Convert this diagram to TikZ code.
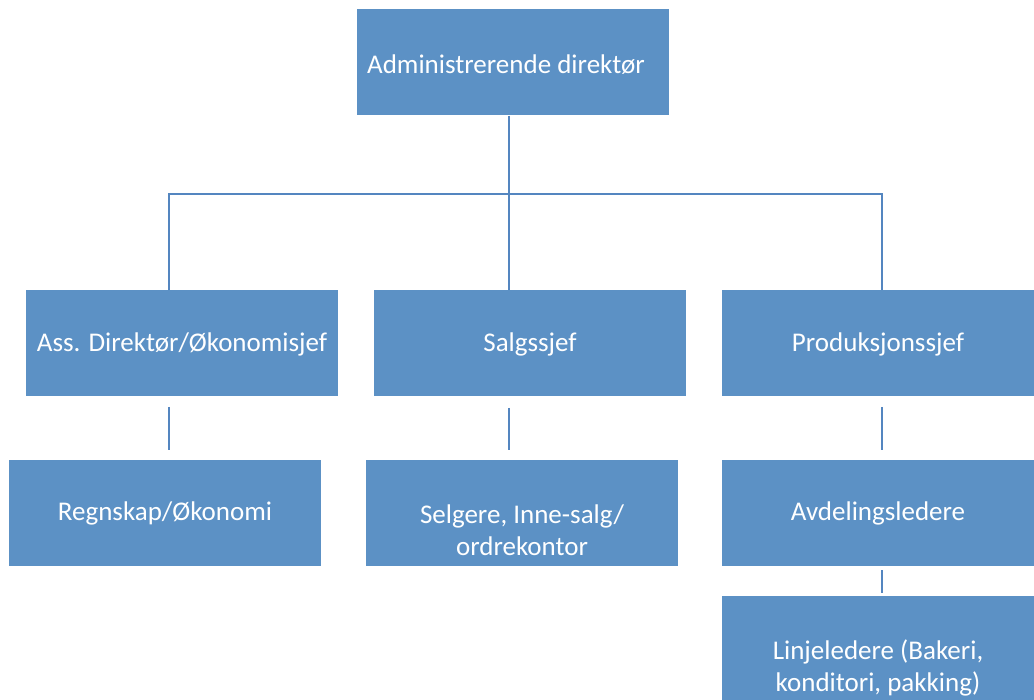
\documentclass[tikz,border=0pt]{standalone}
\usepackage{fontspec}
\setmainfont{Carlito}
\definecolor{boxblue}{RGB}{92,145,197}
\definecolor{lineblue}{RGB}{84,134,192}
\begin{document}
\begin{tikzpicture}[x=1pt,y=-1pt,
  box/.style={fill=boxblue, draw=none, minimum width=312pt, minimum height=106pt,
    inner sep=0pt, text=white, font=\fontsize{27}{32}\selectfont, align=center,
    text height=22pt, text depth=6pt},
  txt/.style={text=white, font=\fontsize{27}{32}\selectfont, align=center, inner sep=0pt},
  conn/.style={draw=lineblue, line width=2.2pt}]
\useasboundingbox (0,0) rectangle (1034,700);
\begin{scope}
\clip (0,0) rectangle (1034,700);
\node[box] (top) at (513,62.5) {};
\node[txt] (topt) at ([xshift=-7pt,yshift=-2pt]top.center) {Administrerende direktør};
\node[box] (a1) at (182,343.5) {Ass. Direktør/Økonomisjef};
\node[box] (a2) at (530,343.5) {Salgssjef};
\node[box] (a3) at (878,343.5) {Produksjonssjef};
\node[box] (b1) at (165,513) {Regnskap/Økonomi};
\node[box] (b2) at (522,513) {};
\node[txt] (b2t) at ([yshift=-17pt]b2.center) {Selgere, Inne-salg/\\ordrekontor};
\node[box] (b3) at (878,513) {Avdelingsledere};
\node[box] (c3) at (878,649) {};
\node[txt] (c3t) at ([yshift=-19pt]c3.center) {Linjeledere (Bakeri,\\konditori, pakking)};
\end{scope}
\coordinate (hl) at (169,194);
\coordinate (hr) at (882,194);
\draw[conn] (top.south -| 509,0) -- (a2.north -| 509,0);
\draw[conn] (a1.north -| hl) -- (hl) -- (hr) -- (a3.north -| hr);
\coordinate (s1) at (169,407);
\coordinate (e1) at (169,450);
\coordinate (s2) at (509,408);
\coordinate (e2) at (509,450);
\coordinate (s3) at (882,407);
\coordinate (e3) at (882,450);
\coordinate (s4) at (882,570);
\coordinate (e4) at (882,593);
\draw[conn] (s1) -- (e1);
\draw[conn] (s2) -- (e2);
\draw[conn] (s3) -- (e3);
\draw[conn] (s4) -- (e4);
\end{tikzpicture}
\end{document}
